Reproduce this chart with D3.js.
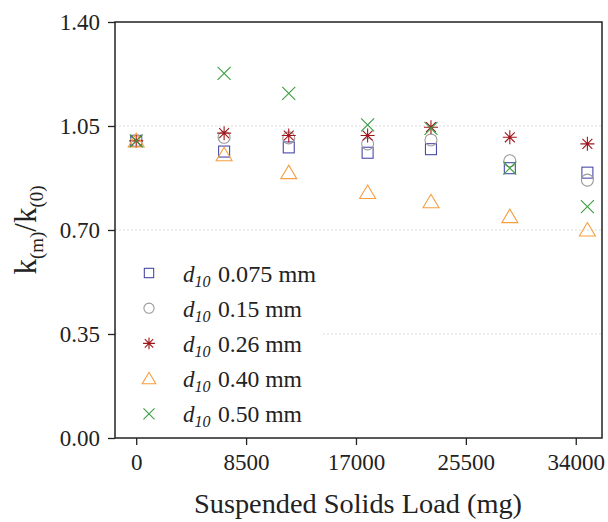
<!DOCTYPE html>
<html><head><meta charset="utf-8">
<script src="https://cdn.jsdelivr.net/npm/d3@7"></script>
<style>body{margin:0;background:#fff}svg{display:block}</style>
</head><body>
<svg id="c" width="608" height="522"></svg>
<script>
const loads = [0, 6800, 11800, 17900, 22800, 28900, 34900];
const seriesNames = ["0.075 mm", "0.15 mm", "0.26 mm", "0.40 mm", "0.50 mm"];
const d075 = [1.00, 0.964, 0.978, 0.960, 0.972, 0.908, 0.893];
const d015 = [1.00, 1.012, 1.010, 0.990, 1.003, 0.933, 0.868];
const d026 = [1.00, 1.026, 1.018, 1.018, 1.046, 1.012, 0.990];
const d040 = [1.00, 0.953, 0.893, 0.826, 0.795, 0.745, 0.700];
const d050 = [1.00, 1.227, 1.160, 1.054, 1.042, 0.908, 0.779];
const xTicks = [0, 8500, 17000, 25500, 34000];
const yTicks = [0.00, 0.35, 0.70, 1.05, 1.40];
const colors = ["#4a4aa8", "#9a9a9a", "#a0161c", "#f5a040", "#3a9e3e"];
const shapes = ["square", "circle", "star", "triangle", "cross"];
const allSeries = [d075, d015, d026, d040, d050];

const svg = d3.select("#c");
const L = 115, R = 602, T = 22, B = 438;
const x = d3.scaleLinear().domain([-1640, 36030]).range([L, R]);
const y = d3.scaleLinear().domain([0, 1.4]).range([B, T]);
const font = "'Liberation Serif', serif";

// grid
svg.append("g").selectAll("line").data([0.35, 0.70, 1.05]).join("line")
  .attr("x1", L).attr("x2", R).attr("y1", d => y(d)).attr("y2", d => y(d))
  .attr("stroke", "#dcdcdc").attr("stroke-width", 1).attr("stroke-dasharray", "2,2");

// frame
svg.append("rect").attr("x", L).attr("y", T).attr("width", R - L).attr("height", B - T)
  .attr("fill", "none").attr("stroke", "#222").attr("stroke-width", 1.5);

const xAxis = svg.append("g").attr("transform", `translate(0,${B})`)
  .call(d3.axisBottom(x).tickValues(xTicks).tickFormat(d3.format("d")).tickSize(7).tickPadding(9));
const yAxis = svg.append("g").attr("transform", `translate(${L},0)`)
  .call(d3.axisLeft(y).tickValues(yTicks).tickFormat(d3.format(".2f")).tickSize(7).tickPadding(8));
[xAxis, yAxis].forEach(g => {
  g.select(".domain").remove();
  g.selectAll("line").attr("stroke", "#222").attr("stroke-width", 1.3);
  g.selectAll("text").attr("font-family", font).attr("font-size", 23).attr("fill", "#222");
});

function drawMarker(g, shape, color, cx, cy, s) {
  const m = g.append("g").attr("transform", `translate(${cx},${cy})`)
    .attr("fill", "none").attr("stroke", color).attr("stroke-width", 1.1);
  if (shape === "square") m.append("rect").attr("x", -5.5*s).attr("y", -5.5*s).attr("width", 11*s).attr("height", 11*s);
  else if (shape === "circle") m.append("circle").attr("r", 6*s);
  else if (shape === "triangle") m.append("path").attr("d", `M0,${-7.5*s}L${8*s},${6*s}L${-8*s},${6*s}Z`);
  else if (shape === "cross") m.append("path").attr("d", `M${-6.5*s},${-6.5*s}L${6.5*s},${6.5*s}M${-6.5*s},${6.5*s}L${6.5*s},${-6.5*s}`);
  else if (shape === "star") {
    const r = 7*s, r2 = r*0.707;
    m.append("path").attr("d", `M0,${-r}V${r}M${-r},0H${r}M${-r2},${-r2}L${r2},${r2}M${-r2},${r2}L${r2},${-r2}`);
  }
}

// points
allSeries.forEach((vals, i) => {
  const g = svg.append("g");
  vals.forEach((v, j) => drawMarker(g, shapes[i], colors[i], x(loads[j]), y(v), 1));
});

// legend
const leg = svg.append("g");
leg.append("rect").attr("x", L + 2).attr("y", 255).attr("width", 205).attr("height", 178).attr("fill", "#fff");
seriesNames.forEach((n, i) => {
  const ly = 273 + i * 35.2;
  drawMarker(leg, shapes[i], colors[i], 149, ly, 0.85);
  const t = leg.append("text").attr("x", 183).attr("y", ly + 8.5).attr("font-family", font)
    .attr("font-size", 23).attr("fill", "#222");
  t.append("tspan").attr("font-style", "italic").text("d");
  t.append("tspan").attr("font-style", "italic").attr("font-size", 16).attr("dy", 5).text("10");
  leg.append("text").attr("x", 218).attr("y", ly + 8.5).attr("font-family", font)
    .attr("font-size", 23).attr("fill", "#222")
    .attr("textLength", n.length === 8 ? 98 : 84).attr("lengthAdjust", "spacingAndGlyphs").text(n);
});

// axis titles
svg.append("text").attr("x", 358).attr("y", 513).attr("text-anchor", "middle")
  .attr("font-family", font).attr("font-size", 27).attr("fill", "#222")
  .attr("textLength", 328).attr("lengthAdjust", "spacingAndGlyphs").text("Suspended Solids Load (mg)");

const yl = svg.append("text").attr("transform", `translate(36,${(T + B) / 2}) rotate(-90)`)
  .attr("text-anchor", "middle").attr("font-family", font).attr("font-size", 31).attr("fill", "#222");
yl.append("tspan").text("k");
yl.append("tspan").attr("font-size", 19).attr("dy", 7).text("(m)");
yl.append("tspan").attr("dy", -7).text("/k");
yl.append("tspan").attr("font-size", 19).attr("dy", 7).text("(0)");
</script>
</body></html>
